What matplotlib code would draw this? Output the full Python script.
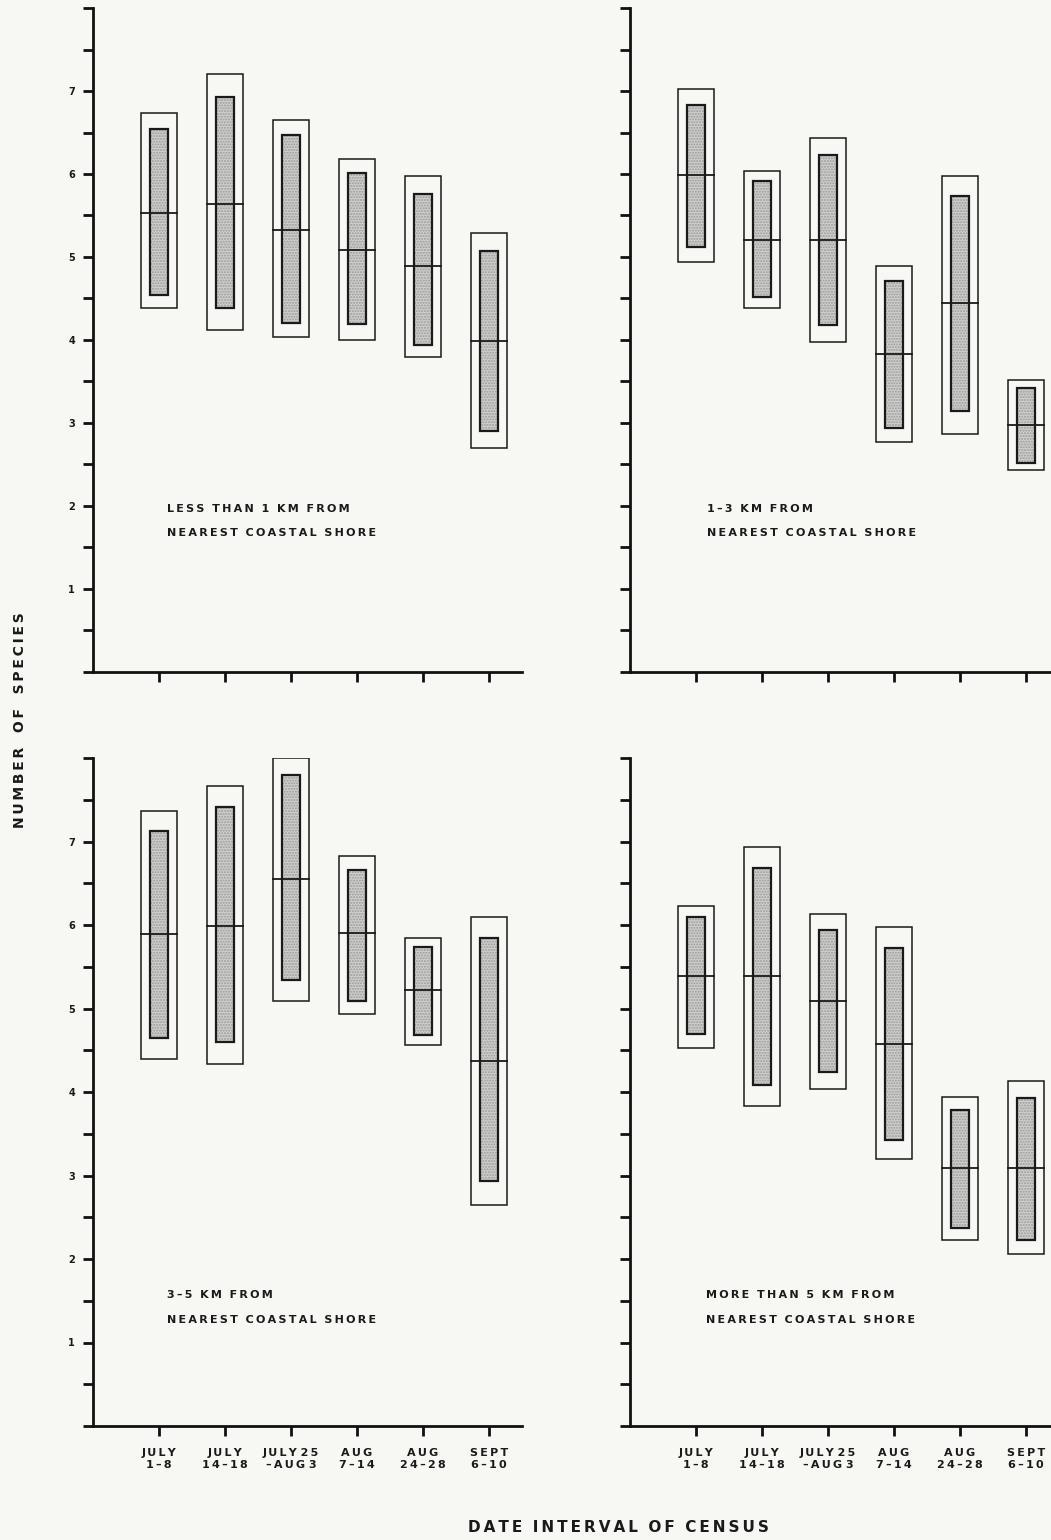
import matplotlib.pyplot as plt
from matplotlib.patches import Rectangle
from matplotlib.ticker import MultipleLocator

# -------------------------
# Data
# -------------------------
DATE_LABELS = ["JULY\n1\u20138", "JULY\n14\u201318", "JULY 25\n\u2013AUG 3",
               "AUG\n7\u201314", "AUG\n24\u201328", "SEPT\n6\u201310"]
Y_LABELS = ["1", "2", "3", "4", "5", "6", "7"]

PANEL_LINE1 = ["LESS THAN 1 KM FROM", "1\u20133 KM FROM",
               "3\u20135 KM FROM", "MORE THAN 5 KM FROM"]
PANEL_LINE2 = ["NEAREST COASTAL SHORE"] * 4

# mean number of species
mean_lt1 = [5.53, 5.64, 5.33, 5.09, 4.89, 3.99]
mean_1_3 = [5.99, 5.21, 5.21, 3.83, 4.44, 2.98]
mean_3_5 = [5.89, 5.99, 6.55, 5.90, 5.22, 4.37]
mean_gt5 = [5.39, 5.39, 5.09, 4.58, 3.09, 3.09]

# outer box (low, high)
outer_lo_lt1 = [4.39, 4.12, 4.04, 4.00, 3.79, 2.70]
outer_hi_lt1 = [6.74, 7.20, 6.65, 6.18, 5.97, 5.29]
outer_lo_1_3 = [4.94, 4.38, 3.98, 2.77, 2.87, 2.43]
outer_hi_1_3 = [7.02, 6.04, 6.43, 4.89, 5.98, 3.52]
outer_lo_3_5 = [4.39, 4.33, 5.09, 4.93, 4.56, 2.65]
outer_hi_3_5 = [7.36, 7.67, 8.00, 6.83, 5.84, 6.09]
outer_lo_gt5 = [4.53, 3.83, 4.04, 3.20, 2.23, 2.06]
outer_hi_gt5 = [6.23, 6.93, 6.13, 5.98, 3.94, 4.13]

# inner shaded box (low, high)
inner_lo_lt1 = [4.54, 4.39, 4.20, 4.19, 3.94, 2.90]
inner_hi_lt1 = [6.54, 6.93, 6.47, 6.01, 5.76, 5.07]
inner_lo_1_3 = [5.12, 4.52, 4.18, 2.94, 3.14, 2.52]
inner_hi_1_3 = [6.83, 5.91, 6.23, 4.71, 5.73, 3.42]
inner_lo_3_5 = [4.65, 4.60, 5.34, 5.09, 4.68, 2.94]
inner_hi_3_5 = [7.13, 7.41, 7.80, 6.66, 5.74, 5.84]
inner_lo_gt5 = [4.69, 4.08, 4.24, 3.43, 2.37, 2.23]
inner_hi_gt5 = [6.09, 6.68, 5.94, 5.73, 3.79, 3.93]

PAPER = "#f7f7f4"
INK = "#1a1a1a"
FONT = "DejaVu Sans"
THIN = "\u2009"


def spaced(s, word_gap=2):
    # letter-spaced caps like the original typesetting
    lines = []
    for line in s.split("\n"):
        words = line.split(" ")
        lines.append((" " * word_gap).join(THIN.join(w) for w in words))
    return "\n".join(lines)


def draw_panel(ax, means, o_lo, o_hi, i_lo, i_hi, title_xy, show_x, show_y):
    ax.set_facecolor(PAPER)
    ax.set_xlim(0, 6.5)
    ax.set_ylim(0, 8.0)
    for s in ["top", "right"]:
        ax.spines[s].set_visible(False)
    for s in ["left", "bottom"]:
        ax.spines[s].set_linewidth(2.0)
        ax.spines[s].set_color("#111111")

    xs = range(1, len(means) + 1)
    ow, iw = 0.54, 0.27
    for x, m, olo, ohi, ilo, ihi in zip(xs, means, o_lo, o_hi, i_lo, i_hi):
        ax.add_patch(Rectangle((x - ow / 2, olo), ow, ohi - olo,
                               facecolor="none", edgecolor=INK, lw=1.1))
        ax.add_patch(Rectangle((x - iw / 2, ilo), iw, ihi - ilo,
                               facecolor="#cfcfcd", edgecolor="#9a9a9a",
                               hatch="......", lw=0))
        ax.add_patch(Rectangle((x - iw / 2, ilo), iw, ihi - ilo,
                               facecolor="none", edgecolor=INK, lw=1.6))
        ax.plot([x - ow / 2, x + ow / 2], [m, m], color=INK, lw=1.3)

    ax.set_xticks(list(xs))
    if show_x:
        ax.set_xticklabels([spaced(l, 1) for l in DATE_LABELS], fontsize=8,
                           fontweight="bold", family=FONT, linespacing=1.2,
                           color=INK)
    else:
        ax.set_xticklabels([])
    ax.set_yticks(range(1, 8))
    ax.yaxis.set_minor_locator(MultipleLocator(0.5))
    if show_y:
        ax.set_yticklabels(Y_LABELS, fontsize=7, fontweight="bold",
                           family=FONT, color=INK)
    else:
        ax.set_yticklabels([])
    ax.tick_params(axis="both", which="both", direction="out", length=7,
                   width=2.0, color="#111111", pad=6)
    ax.tick_params(axis="x", pad=9)

    tx, ty1, ty2, idx = title_xy
    ax.text(tx, ty1, spaced(PANEL_LINE1[idx]), fontsize=8, fontweight="bold",
            family=FONT, va="center", ha="left", color=INK)
    ax.text(tx, ty2, spaced(PANEL_LINE2[idx]), fontsize=8, fontweight="bold",
            family=FONT, va="center", ha="left", color=INK)


def main():
    fig = plt.figure(figsize=(10.51, 15.40), dpi=100, facecolor=PAPER)

    W, H = 1051, 1540
    w = 429 / W
    ax_tl = fig.add_axes([93 / W, 1 - 672 / H, w, 664 / H])
    ax_tr = fig.add_axes([630 / W, 1 - 672 / H, w, 664 / H])
    ax_bl = fig.add_axes([93 / W, 1 - 1426 / H, w, 668 / H])
    ax_br = fig.add_axes([630 / W, 1 - 1426 / H, w, 668 / H])

    draw_panel(ax_tl, mean_lt1, outer_lo_lt1, outer_hi_lt1, inner_lo_lt1,
               inner_hi_lt1, (1.12, 1.96, 1.67, 0), False, True)
    draw_panel(ax_tr, mean_1_3, outer_lo_1_3, outer_hi_1_3, inner_lo_1_3,
               inner_hi_1_3, (1.16, 1.96, 1.67, 1), False, False)
    draw_panel(ax_bl, mean_3_5, outer_lo_3_5, outer_hi_3_5, inner_lo_3_5,
               inner_hi_3_5, (1.12, 1.57, 1.27, 2), True, True)
    draw_panel(ax_br, mean_gt5, outer_lo_gt5, outer_hi_gt5, inner_lo_gt5,
               inner_hi_gt5, (1.15, 1.57, 1.27, 3), True, False)

    fig.text(20 / W, 1 - 720 / H, spaced("NUMBER OF SPECIES", 3), rotation=90,
             fontsize=10, fontweight="bold", family=FONT,
             ha="center", va="center", color=INK)
    fig.text(618 / W, 1 - 1528 / H, spaced("DATE INTERVAL OF CENSUS", 2),
             fontsize=11, fontweight="bold", family=FONT,
             ha="center", va="center", color=INK)

    fig.savefig("out.png", dpi=100, facecolor=PAPER)


if __name__ == "__main__":
    main()
